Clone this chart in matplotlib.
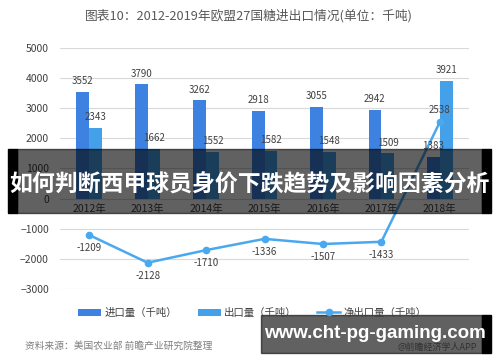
import numpy as np
import matplotlib.pyplot as plt
from matplotlib.patches import Rectangle

plt.rcParams['font.family'] = ['Noto Sans CJK SC', 'DejaVu Sans']

years = ['2012年', '2013年', '2014年', '2015年', '2016年', '2017年', '2018年']
imports = [3552, 3790, 3262, 2918, 3055, 2942, 1383]
exports = [2343, 1662, 1552, 1582, 1548, 1509, 3921]
net_exports = [-1209, -2128, -1710, -1336, -1507, -1433, 2538]

c_imp = '#3d82e0'
c_exp = '#45a0ea'
c_net = '#4aa8ee'
txt = '#404040'

fig = plt.figure(figsize=(5, 3.62), dpi=100)
ax = fig.add_axes([0.12, 0.2017, 0.818, 0.6657])

x = np.arange(len(years))
w = 0.22
b1 = ax.bar(x - w/2, imports, w, color=c_imp, label='进口量（千吨）', zorder=2)
b2 = ax.bar(x + w/2, exports, w, color=c_exp, label='出口量（千吨）', zorder=2)
ln, = ax.plot(x, net_exports, color=c_net, linewidth=1.8, marker='o',
              markersize=4.5, label='净出口量（千吨）', zorder=3)

for xi, v in zip(x - w/2, imports):
    ax.annotate(str(v), (xi, v), xytext=(0, 4), textcoords='offset points',
                ha='center', va='bottom', fontsize=7, color=txt)
for xi, v in zip(x + w/2, exports):
    ax.annotate(str(v), (xi, v), xytext=(0, 4), textcoords='offset points',
                ha='center', va='bottom', fontsize=7, color=txt)
for xi, v in zip(x, net_exports):
    if v < 0:
        ax.annotate(str(v), (xi, v), xytext=(0, -6), textcoords='offset points',
                    ha='center', va='top', fontsize=7, color=txt)
    else:
        ax.annotate(str(v), (xi, v), xytext=(0, 5), textcoords='offset points',
                    ha='center', va='bottom', fontsize=7, color=txt)

ax.set_xlim(-0.5, len(years) - 0.5)
ax.set_ylim(-3000, 5000)
ax.set_yticks(range(-3000, 5001, 1000))
ax.tick_params(axis='y', length=0, labelsize=7.5, labelcolor=txt, pad=8)
ax.set_xticks(x)
ax.set_xticklabels(years)
ax.spines['bottom'].set_position(('data', 0))
ax.tick_params(axis='x', length=0, labelsize=7.5, labelcolor=txt, pad=4)
for s in ax.spines.values():
    s.set_visible(False)
ax.grid(axis='y', color='#d9d9d9', linewidth=0.8, zorder=0)
ax.set_axisbelow(True)

fig.text(0.498, 1 - 16/362, '图表10：2012-2019年欧盟27国糖进出口情况(单位：千吨)',
         ha='center', va='center', fontsize=9.2, color='#595959')

fig.legend(handles=[b1, b2, ln], loc='center', bbox_to_anchor=(0.505, 1 - 313/362),
           ncol=3, frameon=False, fontsize=7.5, handlelength=2.2,
           columnspacing=2.0, handletextpad=0.3, labelcolor=txt)

fig.text(25/500, 1 - 346/362, '资料来源：美国农业部 前瞻产业研究院整理',
         ha='left', va='center', fontsize=7, color='#7f7f7f', style='italic')
fig.text(0.875, 1 - 347/362, '@前瞻经济学人APP', ha='center', va='center',
         fontsize=6.5, color='#7f7f7f')

# overlay banners
def banner(x0, x1, y0, y1):
    H = 362.0
    fig.patches.append(Rectangle((x0/500, 1 - y1/H), (x1 - x0)/500, (y1 - y0)/H,
                                 transform=fig.transFigure, color='black',
                                 alpha=0.62, zorder=5))
    fig.patches.append(Rectangle((482/500, 1 - y1/H), 9/500, (y1 - y0)/H,
                                 transform=fig.transFigure, color='black', zorder=5))

banner(17, 482, 149, 213)
fig.patches.append(Rectangle((8/500, 1 - 213/362), 9/500, 64/362,
                             transform=fig.transFigure, color='black', zorder=5))
fig.text(249/500, 1 - 185/362, '如何判断西甲球员身价下跌趋势及影响因素分析',
         ha='center', va='center', fontsize=16.5, fontweight='bold',
         color='white', zorder=6)

banner(261, 482, 315, 353)
fig.text(375/500, 1 - 333/362, 'www.cht-pg-gaming.com', ha='center', va='center',
         fontsize=13.5, fontweight='bold', color='white', zorder=6,
         family=['Liberation Sans', 'DejaVu Sans'])

fig.savefig('out.png', dpi=100)
